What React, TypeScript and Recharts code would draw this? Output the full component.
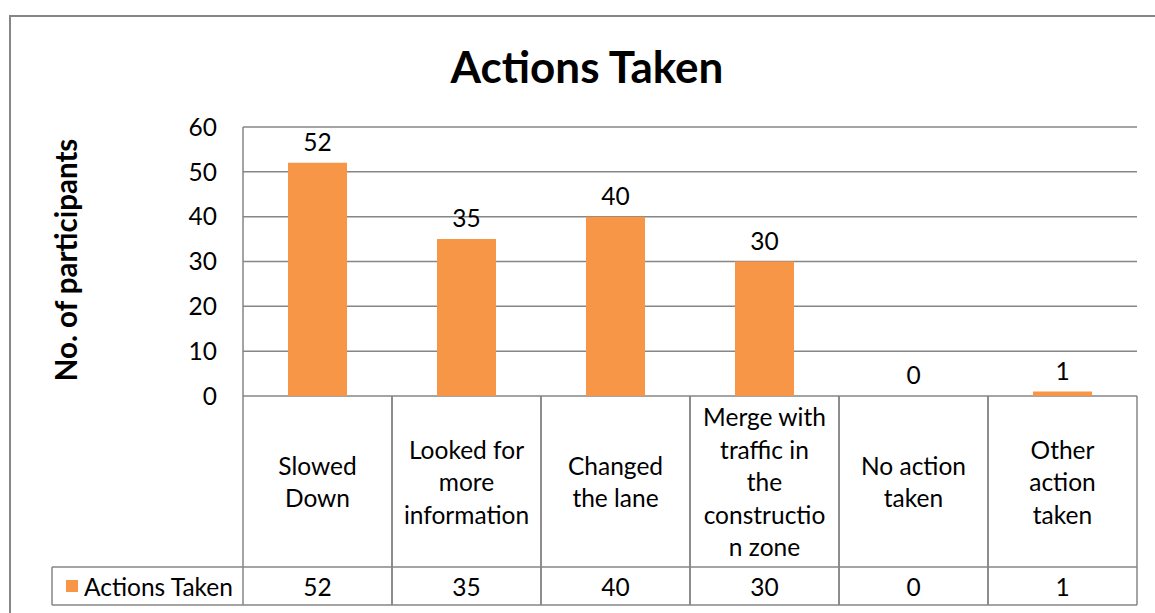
import * as React from 'react';
import { ComposedChart, Bar, Line, XAxis, YAxis, CartesianGrid, LabelList } from 'recharts';

const categories = [
  'Slowed Down',
  'Looked for more information',
  'Changed the lane',
  'Merge with traffic in the construction zone',
  'No action taken',
  'Other action taken',
];
// wrapped as in the source table cells
const categoryLines = [
  ['Slowed', 'Down'],
  ['Looked for', 'more', 'information'],
  ['Changed', 'the lane'],
  ['Merge with', 'traffic in', 'the', 'constructio', 'n zone'],
  ['No action', 'taken'],
  ['Other', 'action', 'taken'],
];
const actionsTaken = [52, 35, 40, 30, 0, 1];
const yTicks = [0, 10, 20, 30, 40, 50, 60];

const seriesName = 'Actions Taken';
const data = categories.map((name, i) => ({ name, value: actionsTaken[i] }));

const W = 1155;
const H = 613;
const PLOT_LEFT = 243;
const PLOT_RIGHT = 1137;
const PLOT_BOTTOM = 396;
const BAND = (PLOT_RIGHT - PLOT_LEFT) / categories.length;
const GRID = '#868686';
const ORANGE = '#F79646';
const FONT = 'Lato, "Open Sans", sans-serif';
const TXT = 24.5;

const TableTick = (props: any) => {
  const { x, index } = props;
  const left = x - BAND / 2;
  const right = x + BAND / 2;
  const top = PLOT_BOTTOM;
  const rowTop = 567;
  const bottom = 605;
  const lines = categoryLines[index] || [];
  const lh = 32.5;
  const midY = (top + rowTop) / 2;
  const startY = midY - ((lines.length - 1) * lh) / 2;
  return (
    <g>
      <line x1={left} y1={top} x2={left} y2={bottom} stroke={GRID} strokeWidth={1.5} />
      <line x1={right} y1={top} x2={right} y2={bottom} stroke={GRID} strokeWidth={1.5} />
      <line x1={left} y1={rowTop} x2={right} y2={rowTop} stroke={GRID} strokeWidth={1.5} />
      <line x1={left} y1={bottom} x2={right} y2={bottom} stroke={GRID} strokeWidth={1.5} />
      {lines.map((t, i) => (
        <text key={i} x={x} y={startY + i * lh} textAnchor="middle" dominantBaseline="central"
          fontSize={TXT} fill="#000" fontFamily={FONT}>{t}</text>
      ))}
      <text x={x} y={(rowTop + bottom) / 2} textAnchor="middle" dominantBaseline="central"
        fontSize={TXT} fill="#000" fontFamily={FONT}>{actionsTaken[index]}</text>
      {index === 0 && (
        <g>
          <line x1={52} y1={rowTop} x2={left} y2={rowTop} stroke={GRID} strokeWidth={1.5} />
          <line x1={52} y1={bottom} x2={left} y2={bottom} stroke={GRID} strokeWidth={1.5} />
          <line x1={52} y1={rowTop} x2={52} y2={bottom} stroke={GRID} strokeWidth={1.5} />
          <rect x={66} y={580} width={12} height={12} fill={ORANGE} />
          <text x={84} y={(rowTop + bottom) / 2} dominantBaseline="central" fontSize={TXT}
            fill="#000" fontFamily={FONT}>{seriesName}</text>
        </g>
      )}
    </g>
  );
};

const App = () => {
  return (
    <div style={{ position: 'absolute', left: 0, top: 0, width: W, height: H, background: '#fff', overflow: 'hidden', fontFamily: FONT }}>
      <div style={{ position: 'absolute', left: 9, top: 15, width: W, height: H, border: `2px solid ${GRID}`, boxSizing: 'border-box' }} />
      <div style={{ position: 'absolute', left: 0, top: 0 }}>
        <ComposedChart width={W} height={H} data={data}
          margin={{ top: 127, right: W - PLOT_RIGHT, left: PLOT_LEFT - 60, bottom: 8 }}>
          <text x={587} y={66} textAnchor="middle" dominantBaseline="central" fontSize={44}
            fontWeight="bold" fill="#000" fontFamily={FONT}>Actions Taken</text>
          <text x={65} y={260} textAnchor="middle" dominantBaseline="central" fontSize={29.5}
            fontWeight="bold" fill="#000" fontFamily={FONT} transform="rotate(-90 65 260)">No. of participants</text>
          <CartesianGrid vertical={false} stroke={GRID} strokeWidth={1.5} />
          <XAxis dataKey="name" height={209} axisLine={false} tickLine={false} interval={0}
            tick={<TableTick />} />
          <YAxis width={60} domain={[0, 60]} ticks={yTicks} interval={0} tickLine={false}
            axisLine={{ stroke: GRID, strokeWidth: 1.5 }}
            tick={{ fontSize: TXT, fill: '#000', fontFamily: FONT }} tickMargin={20} />
          <Bar dataKey="value" fill={ORANGE} barSize={59} isAnimationActive={false} legendType="none" />
          <Line dataKey="value" stroke="none" dot={false} activeDot={false} isAnimationActive={false} legendType="none">
            <LabelList dataKey="value" position="top" offset={12}
              style={{ fontSize: TXT, fill: '#000', fontFamily: FONT }} />
          </Line>
        </ComposedChart>
      </div>
    </div>
  );
};

export default App;
